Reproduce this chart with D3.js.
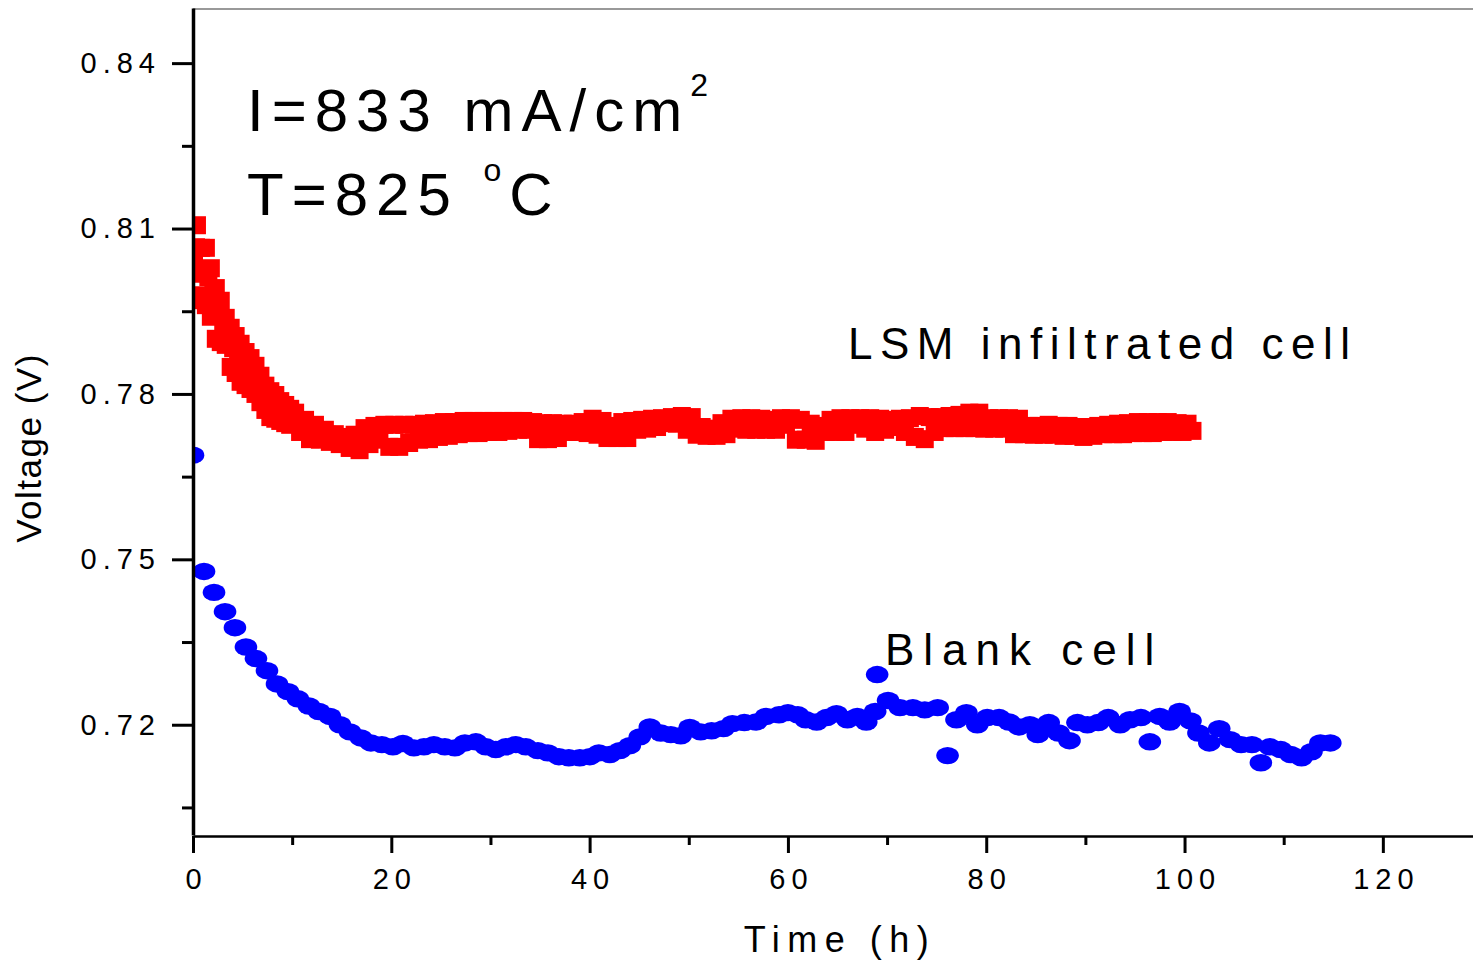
<!DOCTYPE html>
<html>
<head>
<meta charset="utf-8">
<script src="https://d3js.org/d3.v7.min.js"></script>
<style>
  body { margin: 0; background: #fff; }
  text { font-family: "Liberation Sans", Arial, sans-serif; fill: #000; }
</style>
</head>
<body>
<div id="chart"></div>
<script>
// blank cell (blue circles)
const blueTime = [0, 1.11, 2.12, 3.23, 4.23, 5.34, 6.35, 7.46, 8.47, 9.58,
  10.58, 11.69, 12.7, 13.81, 14.82, 15.83, 16.94, 17.94, 19.05, 20.16,
  21.17, 22.28, 23.29, 24.29, 25.4, 26.41, 27.42, 28.53, 29.54, 30.54,
  31.55, 32.56, 33.57, 34.78, 35.79, 36.9, 37.9, 39.01, 40.02, 40.93,
  42.04, 43.04, 44.05, 45.06, 46.07, 47.18, 48.19, 49.19, 50.1, 51.2,
  52.3, 53.5, 54.4, 55.6, 56.8, 57.8, 59.1, 60.0, 61.0, 61.8,
  62.9, 63.9, 64.9, 66.0, 67.0, 67.9, 68.8, 69.0, 70.1, 71.3,
  72.6, 73.8, 75.1, 76.1, 77.0, 78.0, 79.1, 80.1, 81.3, 82.3,
  83.3, 84.4, 85.2, 86.3, 87.3, 88.4, 89.2, 90.2, 91.3, 92.3,
  93.5, 94.5, 95.6, 96.5, 97.5, 98.5, 99.5, 100.6, 101.4, 102.5,
  103.5, 104.6, 105.7, 106.8, 107.7, 108.6, 109.7, 110.7, 111.8, 112.8,
  113.7, 114.7];
const blueVolt = [0.7689, 0.7478, 0.7440, 0.7405, 0.7376, 0.7341, 0.7320, 0.7298, 0.7274, 0.7260,
  0.7247, 0.7234, 0.7224, 0.7215, 0.7200, 0.7187, 0.7176, 0.7167, 0.7164, 0.7160,
  0.7166, 0.7158, 0.7160, 0.7164, 0.7160, 0.7158, 0.7167, 0.7169, 0.7160, 0.7155,
  0.7160, 0.7164, 0.7160, 0.7153, 0.7149, 0.7142, 0.7140, 0.7140, 0.7142, 0.7149,
  0.7146, 0.7153, 0.7162, 0.7178, 0.7196, 0.7185, 0.7182, 0.7180, 0.7195, 0.7187,
  0.7189, 0.7193, 0.7202, 0.7204, 0.7205, 0.7215, 0.7218, 0.7222, 0.7218, 0.7209,
  0.7205, 0.7213, 0.7220, 0.7209, 0.7215, 0.7205, 0.7224, 0.7291, 0.7244, 0.7231,
  0.7231, 0.7227, 0.7231, 0.7144, 0.7209, 0.7222, 0.7200, 0.7213, 0.7213, 0.7205,
  0.7196, 0.7200, 0.7182, 0.7204, 0.7185, 0.7171, 0.7204, 0.7200, 0.7204, 0.7213,
  0.7200, 0.7209, 0.7213, 0.7169, 0.7215, 0.7205, 0.7224, 0.7207, 0.7185, 0.7167,
  0.7193, 0.7173, 0.7164, 0.7164, 0.7131, 0.7160, 0.7155, 0.7146, 0.7140, 0.7151,
  0.7167, 0.7167];

// LSM infiltrated cell (red squares), upper / lower edge of the noisy trace
const redTime = [0.4, 0.1, 0.2, 0.6,
  0.3, 0.8, 1.3, 1.8, 2.3, 2.8, 3.3, 3.8, 4.3, 4.8,
  5.3, 5.8, 6.3, 6.8, 7.3, 7.8, 8.3, 8.8, 9.3, 9.8,
  10.3, 10.8, 11.3, 11.8, 12.3, 12.8, 13.3, 13.8, 14.3, 14.8,
  15.3, 15.8, 16.3, 16.8, 17.3, 17.8, 18.3, 18.8, 19.3, 19.8,
  20.3, 20.8, 21.3, 21.8, 22.3, 22.8, 23.3, 23.8, 24.3, 24.8,
  25.3, 25.8, 26.3, 26.8, 27.3, 27.8, 28.3, 28.8, 29.3, 29.8,
  30.3, 30.8, 31.3, 31.8, 32.3, 32.8, 33.3, 33.8, 34.3, 34.8,
  35.3, 35.8, 36.3, 36.8, 37.3, 37.8, 38.3, 38.8, 39.3, 39.8,
  40.3, 40.8, 41.3, 41.8, 42.3, 42.8, 43.3, 43.8, 44.3, 44.8,
  45.3, 45.8, 46.3, 46.8, 47.3, 47.8, 48.3, 48.8, 49.3, 49.8,
  50.3, 50.8, 51.3, 51.8, 52.3, 52.8, 53.3, 53.8, 54.3, 54.8,
  55.3, 55.8, 56.3, 56.8, 57.3, 57.8, 58.3, 58.8, 59.3, 59.8,
  60.3, 60.8, 61.3, 61.8, 62.3, 62.8, 63.3, 63.8, 64.3, 64.8,
  65.3, 65.8, 66.3, 66.8, 67.3, 67.8, 68.3, 68.8, 69.3, 69.8,
  70.3, 70.8, 71.3, 71.8, 72.3, 72.8, 73.3, 73.8, 74.3, 74.8,
  75.3, 75.8, 76.3, 76.8, 77.3, 77.8, 78.3, 78.8, 79.3, 79.8,
  80.3, 80.8, 81.3, 81.8, 82.3, 82.8, 83.3, 83.8, 84.3, 84.8,
  85.3, 85.8, 86.3, 86.8, 87.3, 87.8, 88.3, 88.8, 89.3, 89.8,
  90.3, 90.8, 91.3, 91.8, 92.3, 92.8, 93.3, 93.8, 94.3, 94.8,
  95.3, 95.8, 96.3, 96.8, 97.3, 97.8, 98.3, 98.8, 99.3, 99.8,
  100.3, 100.8];
const redVolt = [0.8106, 0.8034, 0.7970, 0.8025,
  0.8066, 0.7972, 0.8065, 0.7940, 0.7992, 0.7894, 0.7938, 0.7849, 0.7905, 0.7822,
  0.7876, 0.7809, 0.7851, 0.7785, 0.7815, 0.7758, 0.7798, 0.7751, 0.7780, 0.7744,
  0.7766, 0.7731, 0.7753, 0.7718, 0.7744, 0.7717, 0.7735, 0.7713, 0.7727, 0.7709,
  0.7722, 0.7702, 0.7726, 0.7698, 0.7738, 0.7709, 0.7742, 0.7717, 0.7744, 0.7704,
  0.7744, 0.7704, 0.7744, 0.7711, 0.7744, 0.7717, 0.7746, 0.7718, 0.7747, 0.7722,
  0.7749, 0.7724, 0.7749, 0.7727, 0.7751, 0.7729, 0.7751, 0.7729, 0.7751, 0.7731,
  0.7751, 0.7731, 0.7751, 0.7733, 0.7751, 0.7735, 0.7751, 0.7735, 0.7749, 0.7718,
  0.7747, 0.7718, 0.7747, 0.7720, 0.7746, 0.7731, 0.7746, 0.7731, 0.7749, 0.7729,
  0.7755, 0.7726, 0.7751, 0.7720, 0.7742, 0.7720, 0.7749, 0.7720, 0.7751, 0.7735,
  0.7753, 0.7737, 0.7755, 0.7740, 0.7756, 0.7747, 0.7758, 0.7746, 0.7760, 0.7735,
  0.7758, 0.7726, 0.7740, 0.7724, 0.7737, 0.7724, 0.7747, 0.7727, 0.7755, 0.7737,
  0.7756, 0.7735, 0.7756, 0.7735, 0.7755, 0.7735, 0.7753, 0.7735, 0.7756, 0.7744,
  0.7756, 0.7717, 0.7753, 0.7717, 0.7746, 0.7715, 0.7742, 0.7731, 0.7753, 0.7731,
  0.7756, 0.7731, 0.7756, 0.7744, 0.7756, 0.7737, 0.7756, 0.7731, 0.7755, 0.7735,
  0.7753, 0.7740, 0.7755, 0.7731, 0.7756, 0.7722, 0.7760, 0.7718, 0.7758, 0.7731,
  0.7758, 0.7738, 0.7760, 0.7738, 0.7762, 0.7738, 0.7766, 0.7738, 0.7766, 0.7737,
  0.7756, 0.7737, 0.7756, 0.7737, 0.7756, 0.7727, 0.7755, 0.7727, 0.7742, 0.7726,
  0.7742, 0.7726, 0.7744, 0.7726, 0.7742, 0.7724, 0.7742, 0.7724, 0.7740, 0.7722,
  0.7740, 0.7724, 0.7742, 0.7727, 0.7744, 0.7727, 0.7746, 0.7727, 0.7747, 0.7729,
  0.7749, 0.7729, 0.7749, 0.7729, 0.7749, 0.7731, 0.7749, 0.7731, 0.7747, 0.7731,
  0.7746, 0.7733];

// LSM infiltrated cell, extra readings (middle and opposite edge) during the initial drop
const redFillTime = [0.55, 1.05, 1.55, 2.05, 2.55, 3.05, 3.55, 4.05, 4.55, 5.05,
  5.55, 6.05, 6.55, 7.05, 7.55, 8.05, 8.55, 9.05, 9.55, 10.05,
  10.55, 11.05, 11.55, 12.05, 12.55, 13.05, 13.55, 14.05, 14.55, 15.05,
  15.55, 16.05, 16.55, 17.05,
  0.3, 1.3, 2.3, 3.3, 4.3, 5.3, 6.3, 7.3, 8.3, 9.3,
  0.8, 1.8, 2.8, 3.8, 4.8, 5.8, 6.8, 7.8, 8.8, 9.8];
const redFillVolt = [0.8023, 0.8018, 0.8012, 0.7983, 0.7945, 0.7931, 0.7912, 0.7883, 0.7871, 0.7856,
  0.7845, 0.7836, 0.7825, 0.7809, 0.7793, 0.7782, 0.7776, 0.7769, 0.7764, 0.7758,
  0.7751, 0.7744, 0.7738, 0.7733, 0.7731, 0.7727, 0.7726, 0.7722, 0.7718, 0.7717,
  0.7713, 0.7711, 0.7713, 0.7717,
  0.7979, 0.7961, 0.7900, 0.7889, 0.7838, 0.7816, 0.7800, 0.7771, 0.7755, 0.7747,
  0.8065, 0.8028, 0.7969, 0.7920, 0.7891, 0.7865, 0.7833, 0.7805, 0.7787, 0.7773];

const xTicks = [0, 20, 40, 60, 80, 100, 120];
const xMinor = [10, 30, 50, 70, 90, 110, 130];
const yTicks = [0.72, 0.75, 0.78, 0.81, 0.84];
const yMinor = [0.705, 0.735, 0.765, 0.795, 0.825];

const W = 1473, H = 961;
const pL = 193, pT = 8, pB = 835, pR = 1482;

const svg = d3.select("#chart").append("svg")
  .attr("width", W).attr("height", H);

const x = d3.scaleLinear().domain([0, 130]).range([pL, pR]);
const y = d3.scaleLinear().domain([0.70, 0.85]).range([pB, pT]);

svg.append("clipPath").attr("id", "plot")
  .append("rect").attr("x", pL).attr("y", pT)
  .attr("width", W - pL).attr("height", pB - pT);

// top frame line
svg.append("line")
  .attr("x1", pL).attr("x2", W).attr("y1", 9).attr("y2", 9)
  .attr("stroke", "#777").attr("stroke-width", 1.5);

const marks = svg.append("g").attr("clip-path", "url(#plot)");

const redPts = redTime.map((t, i) => [t, redVolt[i]])
  .concat(redFillTime.map((t, i) => [t, redFillVolt[i]]));
const sq = 18;

marks.selectAll("rect.red")
  .data(redPts)
  .join("rect")
  .attr("class", "red")
  .attr("x", d => x(d[0]) - sq / 2)
  .attr("y", d => y(d[1]) - sq / 2)
  .attr("width", sq).attr("height", sq)
  .attr("fill", "#ff0000");

marks.selectAll("ellipse.blue")
  .data(blueTime.map((t, i) => [t, blueVolt[i]]))
  .join("ellipse")
  .attr("class", "blue")
  .attr("cx", d => x(d[0]))
  .attr("cy", d => y(d[1]))
  .attr("rx", 11.3).attr("ry", 8.7)
  .attr("fill", "#0000ff");

// x axis
const xMinorAxis = svg.append("g")
  .attr("transform", `translate(0,${pB + 1})`)
  .call(d3.axisBottom(x).tickValues(xMinor).tickSize(9).tickFormat(""));
xMinorAxis.select(".domain").remove();
xMinorAxis.selectAll("line").attr("stroke-width", 3);

const xAxis = svg.append("g")
  .attr("transform", `translate(0,${pB + 1})`)
  .call(d3.axisBottom(x).tickValues(xTicks).tickSize(17).tickSizeOuter(0).tickPadding(15));
xAxis.select(".domain").attr("stroke-width", 2.5);
xAxis.selectAll("line").attr("stroke-width", 3);
xAxis.selectAll("text")
  .style("font-size", "29px")
  .style("letter-spacing", "6px")
  .attr("dx", 3);

// y axis
const yMinorAxis = svg.append("g")
  .attr("transform", `translate(${pL},0)`)
  .call(d3.axisLeft(y).tickValues(yMinor).tickSize(11).tickFormat(""));
yMinorAxis.select(".domain").remove();
yMinorAxis.selectAll("line").attr("stroke-width", 3);

const yAxis = svg.append("g")
  .attr("transform", `translate(${pL},0)`)
  .call(d3.axisLeft(y).tickValues(yTicks).tickSize(21).tickSizeOuter(0)
    .tickPadding(11).tickFormat(d3.format(".2f")));
yAxis.select(".domain").attr("stroke-width", 3.5);
yAxis.selectAll("line").attr("stroke-width", 3);
yAxis.selectAll("text")
  .style("font-size", "29px")
  .style("letter-spacing", "6px");

// axis titles
svg.append("text")
  .attr("x", 840).attr("y", 952)
  .attr("text-anchor", "middle")
  .style("font-size", "36px")
  .style("letter-spacing", "7.5px")
  .text("Time (h)");

svg.append("text")
  .attr("transform", "translate(41,448) rotate(-90)")
  .attr("text-anchor", "middle")
  .style("font-size", "35px")
  .style("letter-spacing", "1.5px")
  .text("Voltage (V)");

// annotations
const a1 = svg.append("text")
  .attr("x", 247).attr("y", 131)
  .style("font-size", "60px")
  .style("letter-spacing", "8px");
a1.append("tspan").text("I=833 mA/cm");
a1.append("tspan").attr("dy", -35).style("font-size", "32px").text("2");

const a2 = svg.append("text")
  .attr("x", 247).attr("y", 215)
  .style("font-size", "60px")
  .style("letter-spacing", "8px");
a2.append("tspan").text("T=825 ");
a2.append("tspan").attr("dy", -34).style("font-size", "32px").text("o");
a2.append("tspan").attr("dy", 34).text("C");

svg.append("text")
  .attr("x", 848).attr("y", 359)
  .style("font-size", "44px")
  .style("letter-spacing", "7.5px")
  .text("LSM infiltrated cell");

svg.append("text")
  .attr("x", 885).attr("y", 665)
  .style("font-size", "44px")
  .style("letter-spacing", "9px")
  .text("Blank cell");
</script>
</body>
</html>
